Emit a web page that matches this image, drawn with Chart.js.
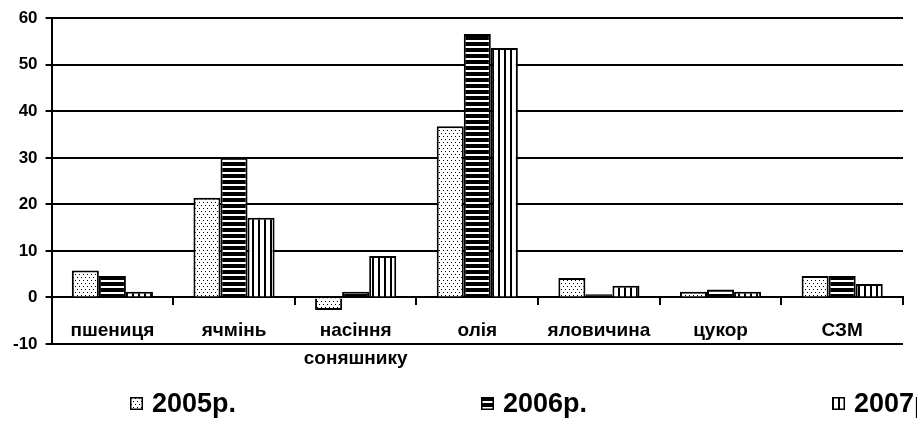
<!DOCTYPE html>
<html>
<head>
<meta charset="utf-8">
<script src="https://cdn.jsdelivr.net/npm/chart.js@4.4.1/dist/chart.umd.min.js"></script>
<style>
    html, body { margin: 0; padding: 0; background: #fff; overflow: hidden; }
    #wrap { position: relative; width: 917px; height: 426px; }
    #legend {
        position: absolute; left: 130px; top: 388px; margin: 0; padding: 0;
        list-style: none; display: flex; white-space: nowrap;
        font: bold 27px "Liberation Sans", Arial, sans-serif; color: #000;
    }
    #legend li { width: 351px; flex: none; display: flex; align-items: center; }
    #legend canvas { margin-right: 9px; }
</style>
</head>
<body>
<div id="wrap">
    <canvas id="myChart"></canvas>
    <ul id="legend"></ul>
</div>
<script>
const categories = ['пшениця', 'ячмінь', ['насіння', 'соняшнику'], 'олія', 'яловичина', 'цукор', 'СЗМ'];
const seriesNames = ['2005р.', '2006р.', '2007р.'];
const values2005 = [5.8, 21.4, -2.7, 36.8, 4.2, 1.2, 4.6];
const values2006 = [4.6, 30.0, 1.2, 56.6, 0.7, 1.7, 4.6];
const values2007 = [1.2, 17.1, 8.9, 53.6, 2.5, 1.2, 2.9];
const yTicks = [-10, 0, 10, 20, 30, 40, 50, 60];

// black & white hatch fills like the old excel chart
function makePattern(kind) {
    const c = document.createElement('canvas');
    c.width = kind === 'dots' ? 4 : 6;
    c.height = 6;
    const g = c.getContext('2d');
    g.fillStyle = '#fff';
    g.fillRect(0, 0, c.width, c.height);
    g.fillStyle = '#000';
    if (kind === 'dots') {
        g.fillRect(1, 1, 1, 1);
        g.fillRect(3, 4, 1, 1);
    } else if (kind === 'hlines') {
        g.fillRect(0, 0, 6, 4);
    } else {
        g.fillRect(0, 0, 2, 6);
    }
    return g.createPattern(c, 'repeat');
}

const fills = [makePattern('dots'), makePattern('hlines'), makePattern('vlines')];
const font = { family: '"Liberation Sans", Arial, sans-serif', weight: 'bold' };

const htmlLegend = {
    id: 'htmlLegend',
    afterUpdate(chart) {
        const ul = document.getElementById('legend');
        ul.innerHTML = '';
        chart.options.plugins.legend.labels.generateLabels(chart).forEach(item => {
            const li = document.createElement('li');
            const box = document.createElement('canvas');
            box.width = 13;
            box.height = 13;
            const b = box.getContext('2d');
            b.fillStyle = item.fillStyle;
            b.fillRect(0, 0, 13, 13);
            b.strokeStyle = '#000';
            b.lineWidth = 1.5;
            b.strokeRect(0.75, 0.75, 11.5, 11.5);
            li.appendChild(box);
            li.appendChild(document.createTextNode(item.text));
            ul.appendChild(li);
        });
    }
};

const ctx = document.getElementById('myChart').getContext('2d');
const chartData = {
    labels: categories,
    datasets: [values2005, values2006, values2007].map((vals, i) => ({
        label: seriesNames[i],
        data: vals,
        backgroundColor: fills[i],
        borderColor: '#000',
        borderWidth: 2,
        categoryPercentage: 0.667,
        barPercentage: 1
    }))
};

const config = {
    type: 'bar',
    data: chartData,
    plugins: [htmlLegend],
    options: {
        responsive: true,
        maintainAspectRatio: false,
        animation: false,
        layout: { padding: { top: 8, right: 14, bottom: 82, left: 5 } },
        plugins: {
            legend: { display: false },
            tooltip: { enabled: false }
        },
        scales: {
            x: {
                position: { y: 0 },
                grid: { display: true, drawOnChartArea: false, offset: true, color: '#000', lineWidth: 2, tickLength: 7 },
                border: { display: true, color: '#000', width: 2 },
                ticks: {
                    color: '#000', padding: 12, maxRotation: 0, autoSkip: false,
                    font: Object.assign({ size: 19, lineHeight: 1.5 }, font)
                }
            },
            y: {
                min: -10,
                max: 60,
                afterBuildTicks: axis => { axis.ticks = yTicks.map(v => ({ value: v })); },
                grid: { color: '#000', lineWidth: 2, tickLength: 6 },
                border: { color: '#000', width: 2 },
                ticks: { color: '#000', padding: 8, font: Object.assign({ size: 17 }, font) }
            }
        }
    }
};
const myChart = new Chart(ctx, config);
</script>
</body>
</html>
